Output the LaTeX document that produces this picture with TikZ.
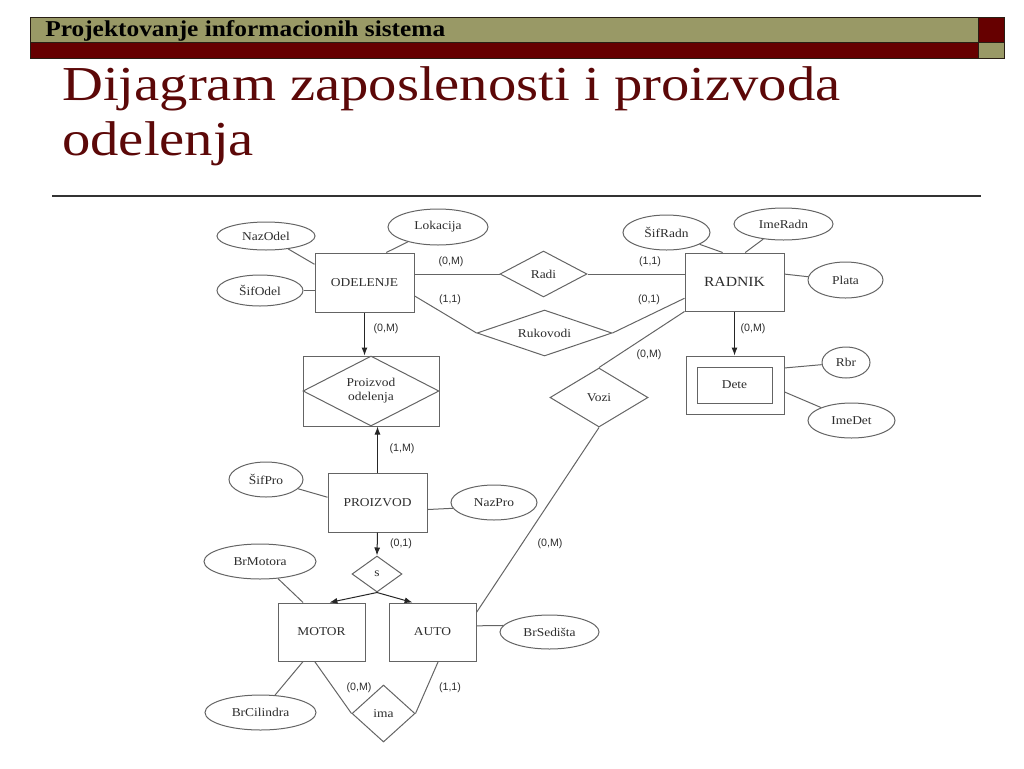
\documentclass[tikz,border=0pt]{standalone}
\usepackage{fontspec}
\setmainfont{Liberation Serif}[FakeStretch=1.12]
\newfontfamily\titleFont{Liberation Serif}[FakeStretch=1.16]
\newfontfamily\cardFont{Liberation Sans}
\usetikzlibrary{shapes.geometric, arrows.meta}
\definecolor{bandOlive}{RGB}{153,153,102}
\definecolor{bandRed}{RGB}{102,0,0}
\definecolor{bandEdge}{RGB}{40,30,20}
\definecolor{titleRed}{RGB}{92,8,8}
\definecolor{lineGray}{RGB}{100,100,100}
\definecolor{textGray}{RGB}{45,45,45}
\tikzstyle{slide} = [x = 0.75pt, y = -0.75pt]
\tikzstyle{entityBox} = [draw = lineGray, line width = 0.75pt, rectangle, inner sep = 0pt, text = textGray, font = \fontsize{9}{10.5}\selectfont]
\tikzstyle{attrOval} = [draw = lineGray, line width = 0.75pt, ellipse, inner sep = 0pt, text = textGray, font = \fontsize{9}{10.5}\selectfont]
\tikzstyle{relDiamond} = [draw = lineGray, line width = 0.75pt, diamond, shape aspect = 2, inner sep = 0pt, text = textGray, align = center, font = \fontsize{9}{10.5}\selectfont]
\tikzstyle{attrLine} = [color = lineGray, line width = 0.75pt]
\tikzstyle{isaArrow} = [color = black!85, line width = 0.75pt, -{Latex[length = 6pt, width = 4.5pt]}]
\tikzstyle{cardText} = [inner sep = 0pt, text = textGray, font = \cardFont\fontsize{8}{9.5}\selectfont]
\tikzstyle{bandStyle} = [draw = bandEdge, line width = 0.75pt]
\tikzstyle{titleStyle} = [anchor = base west, inner sep = 0pt, text = titleRed, font = \titleFont\fontsize{36.6}{41}\selectfont]
\newcommand{\pxUnit}{0.75pt}
\newcommand{\entity}[5]{\node [entityBox, minimum width = #4 * \pxUnit, minimum height = #5 * \pxUnit] (#1) at (#2) {#3};}
\newcommand{\attribute}[5]{\node [attrOval, minimum width = #4 * \pxUnit, minimum height = #5 * \pxUnit] (#1) at (#2) {#3};}
\newcommand{\relationship}[5]{\node [relDiamond, minimum width = #4 * \pxUnit, minimum height = #5 * \pxUnit] (#1) at (#2) {#3};}
\newcommand{\cardinality}[3]{\node [cardText] (#1) at (#2) {#3};}

\begin{document}
\begin{tikzpicture}[slide]
        \useasboundingbox (0,0) rectangle (1024,768);
        % header bands
        \filldraw [bandStyle, fill = bandOlive] (30,17) rectangle (978,42);
        \filldraw [bandStyle, fill = bandRed] (30,42) rectangle (978,58);
        \filldraw [bandStyle, fill = bandRed] (978,17) rectangle (1004,42);
        \filldraw [bandStyle, fill = bandOlive] (978,42) rectangle (1004,58);
        \node [anchor = base west, inner sep = 0pt, font = \bfseries\fontsize{17}{20}\selectfont] (headerText) at (45,36.5) {Projektovanje informacionih sistema};
        \node [titleStyle] (titleLineOne) at (62,100) {Dijagram zaposlenosti i proizvoda};
        \node [titleStyle] (titleLineTwo) at (62,155) {odelenja};
        \draw [line width = 1.2pt, color = black!80] (52,196) -- (981,196);

        % entities
        \entity{odelenje}{364.5,282.5}{ODELENJE}{99}{59}
        \entity{radnik}{734.5,282}{\fontsize{10.5}{12}\selectfont RADNIK}{99}{58}
        \entity{dete}{735,385}{}{98}{58}
        \entity{deteInner}{734.5,385}{Dete}{75}{36}
        \entity{proizvodOdelenja}{371,391}{}{136}{70}
        \entity{proizvod}{377.5,502.5}{PROIZVOD}{99}{59}
        \entity{motor}{321.5,632}{MOTOR}{87}{58}
        \entity{auto}{432.5,632}{AUTO}{87}{58}

        % relationships
        \relationship{radi}{543.5,274}{Radi}{87}{46}
        \relationship{rukovodi}{544.5,333}{Rukovodi}{135}{46}
        \relationship{vozi}{599,397.5}{Vozi}{98}{59}
        \relationship{proizvodOdelenjaRel}{371,391}{Proizvod\\odelenja}{136}{70}
        \relationship{s}{377,574}{s}{50}{36}
        \relationship{ima}{383.5,713.5}{ima}{63}{57}

        % attributes
        \attribute{nazOdel}{266,236}{NazOdel}{98}{28}
        \attribute{lokacija}{438,227}{Lokacija}{100}{36}
        \attribute{sifOdel}{260,290.5}{ŠifOdel}{86}{31}
        \attribute{sifRadn}{666.5,232.5}{ŠifRadn}{87}{35}
        \attribute{imeRadn}{783.5,224}{ImeRadn}{99}{32}
        \attribute{plata}{845.5,280}{Plata}{75}{36}
        \attribute{rbr}{846,362.5}{Rbr}{48}{31}
        \attribute{imeDet}{851.5,420.5}{ImeDet}{87}{35}
        \attribute{sifPro}{266,479.5}{ŠifPro}{74}{35}
        \attribute{nazPro}{494,502.5}{NazPro}{86}{35}
        \attribute{brMotora}{260,561.5}{BrMotora}{112}{35}
        \attribute{brCilindra}{260.5,712.5}{BrCilindra}{111}{35}
        \attribute{brSedista}{549.5,632}{BrSedišta}{99}{34}

        % connectors
        \draw [attrLine] (odelenje.east |- radi.west) -- (radi.west);
        \draw [attrLine] (radi.east) -- (radi.east -| radnik.west);
        \draw [attrLine] (odelenje.-15) -- (rukovodi.west);
        \draw [attrLine] (rukovodi.east) -- (radnik.198);
        \draw [attrLine] (radnik.south west) -- (vozi.north);
        \draw [attrLine] (vozi.south) -- (auto.24);
        \draw [attrLine] (motor.-103) -- (ima.west);
        \draw [attrLine] (auto.-79) -- (ima.east);
        \draw [isaArrow] (odelenje.south) -- (odelenje.south |- proizvodOdelenja.north);
        \draw [isaArrow] (proizvod.north) -- (proizvod.north |- proizvodOdelenja.south);
        \draw [isaArrow] (proizvod.south) -- (s.north);
        \draw [isaArrow] (s.south) -- (motor.75);
        \draw [isaArrow] (s.south) -- (auto.124);
        \draw [isaArrow] (radnik.south) -- (radnik.south |- dete.north);

        \draw [attrLine] (nazOdel) -- (odelenje.160);
        \draw [attrLine] (lokacija) -- (odelenje.54);
        \draw [attrLine] (sifOdel.east) -- (sifOdel.east -| odelenje.west);
        \draw [attrLine] (sifRadn) -- (radnik.112);
        \draw [attrLine] (imeRadn) -- (radnik.70);
        \draw [attrLine] (radnik.9) -- (plata.175);
        \draw [attrLine] (dete.19) -- (rbr);
        \draw [attrLine] (dete.-8) -- (imeDet);
        \draw [attrLine] (sifPro) -- (proizvod.174);
        \draw [attrLine] (proizvod.-8) -- (nazPro.188);
        \draw [attrLine] (brMotora) -- (motor.122);
        \draw [attrLine] (motor.-122) -- (brCilindra);
        \draw [attrLine] (auto.8) -- (brSedista.172);

        % cardinalities
        \cardinality{cardOdelRadi}{451,262}{(0,M)}
        \cardinality{cardOdelRukovodi}{450,300}{(1,1)}
        \cardinality{cardRadnikRadi}{650,262}{(1,1)}
        \cardinality{cardRadnikRukovodi}{649,300}{(0,1)}
        \cardinality{cardRadnikVozi}{649,355}{(0,M)}
        \cardinality{cardRadnikDete}{753,329}{(0,M)}
        \cardinality{cardOdelProizvod}{386,329}{(0,M)}
        \cardinality{cardProizvodOdel}{402,449}{(1,M)}
        \cardinality{cardProizvodS}{401,544}{(0,1)}
        \cardinality{cardAutoVozi}{550,544}{(0,M)}
        \cardinality{cardMotorIma}{359,688}{(0,M)}
        \cardinality{cardAutoIma}{450,688}{(1,1)}
\end{tikzpicture}
\end{document}
